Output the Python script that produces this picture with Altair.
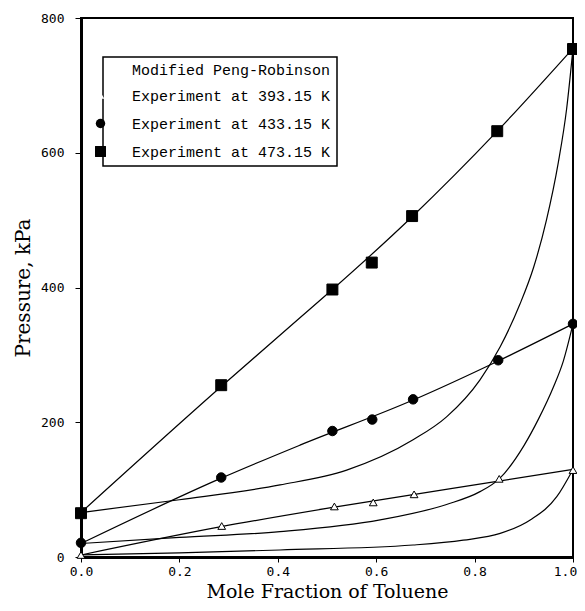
import altair as alt
import pandas as pd

# ---- model curves (Modified Peng-Robinson) ----
bub473_x = [0.0, 0.285, 0.445, 0.511, 0.673, 0.846, 1.0]
bub473_p = [66, 253, 355, 397, 505, 632, 755]

bub433_x = [0.0, 0.285, 0.445, 0.675, 0.848, 1.0]
bub433_p = [20, 117, 166, 233, 291, 346]

bub393_x = [0.0, 0.285, 0.515, 0.852, 1.0]
bub393_p = [3, 45, 74, 113, 130]

dew473_x = [0.0, 0.2, 0.4045, 0.54, 0.675, 0.743, 0.811, 0.852, 0.892, 0.92, 0.946, 0.97, 0.987, 1.0]
dew473_p = [66, 85, 107, 129, 174, 208, 263, 312, 375, 430, 500, 585, 665, 755]

dew433_x = [0.0, 0.2, 0.4045, 0.608, 0.743, 0.811, 0.85, 0.9, 0.93, 0.96, 0.98, 1.0]
dew433_p = [20, 29, 37.6, 55, 78, 97, 116, 165, 205, 252, 290, 346]

dew393_x = [0.0, 0.2, 0.4045, 0.675, 0.777, 0.852, 0.913, 0.967, 1.0]
dew393_p = [3, 6, 10.4, 17.8, 25, 35, 55, 89.5, 130]

# ---- experiments ----
exp393_x = [0.0, 0.286, 0.515, 0.594, 0.677, 0.85, 1.0]
exp393_p = [3, 46, 75, 81, 93, 116, 129]
exp433_x = [0.0, 0.285, 0.511, 0.592, 0.675, 0.848, 1.0]
exp433_p = [21, 118, 187, 204, 234, 292, 346]
exp473_x = [0.0, 0.285, 0.511, 0.591, 0.673, 0.846, 1.0]
exp473_p = [65, 255, 397, 437, 506, 632, 754]

series_names = ["Experiment at 393.15 K", "Experiment at 433.15 K", "Experiment at 473.15 K"]

curve_rows = []
for name, xs, ps in [("bub473", bub473_x, bub473_p), ("bub433", bub433_x, bub433_p),
                     ("bub393", bub393_x, bub393_p), ("dew473", dew473_x, dew473_p),
                     ("dew433", dew433_x, dew433_p), ("dew393", dew393_x, dew393_p)]:
    for x, p in zip(xs, ps):
        curve_rows.append({"curve": name, "x": x, "p": p})
curves = pd.DataFrame(curve_rows)

pt_rows = []
for name, xs, ps in zip(series_names, [exp393_x, exp433_x, exp473_x], [exp393_p, exp433_p, exp473_p]):
    for x, p in zip(xs, ps):
        pt_rows.append({"series": name, "x": x, "p": p})
points = pd.DataFrame(pt_rows)

xscale = alt.Scale(domain=[0, 1], nice=False, zero=False)
yscale = alt.Scale(domain=[0, 800], nice=False)

xaxis = alt.Axis(values=[0, 0.2, 0.4, 0.6, 0.8, 1.0], format=".1f", title="Mole Fraction of Toluene",
                 grid=False, tickSize=5, labelPadding=3, labelFlush=False,
                 labelOffset={"condition": {"test": "datum.value >= 1", "value": -8}, "value": 0},
                 titleY=40, titleBaseline="alphabetic", titleFontSize=19)
yaxis = alt.Axis(values=[0, 200, 400, 600, 800], title="Pressure, kPa", grid=False,
                 tickSize=6, labelPadding=11, titlePadding=7, labelFlush=False)

lines = alt.Chart(curves).mark_line(color="black", strokeWidth=1.2, interpolate="monotone").encode(
    x=alt.X("x:Q", scale=xscale, axis=xaxis),
    y=alt.Y("p:Q", scale=yscale, axis=yaxis),
    detail="curve:N",
)

legend = alt.Legend(title="Modified Peng-Robinson", orient="none", legendX=22, legendY=39)

pts = alt.Chart(points).mark_point(stroke="black", strokeWidth=1, opacity=1).encode(
    x=alt.X("x:Q", scale=xscale),
    y=alt.Y("p:Q", scale=yscale),
    shape=alt.Shape("series:N", scale=alt.Scale(domain=series_names, range=["triangle-up", "circle", "square"]), legend=legend),
    fill=alt.Fill("series:N", scale=alt.Scale(domain=series_names, range=["white", "black", "black"]), legend=legend),
    size=alt.Size("series:N", scale=alt.Scale(domain=series_names, range=[60, 120, 140]), legend=legend),
)

chart = alt.layer(lines, pts).properties(
    width=492, height=539,
    autosize=alt.AutoSizeParams(type="none"),
    padding={"left": 73, "top": 10, "right": 4, "bottom": 45},
).configure_view(
    stroke="black", strokeWidth=2
).configure_axis(
    domainColor="black", domainWidth=3, tickColor="black", tickWidth=1,
    labelFont="DejaVu Sans Mono", labelFontSize=13, labelColor="black",
    titleFont="DejaVu Serif", titleFontSize=20, titleFontWeight="normal", titleColor="black",
).configure_legend(
    strokeColor="black", strokeWidth=1.5, fillColor="white", padding=6,
    titleFont="Liberation Mono", titleFontSize=15, titleFontWeight="normal", titleColor="black",
    titleAnchor="end", titleLimit=400, labelLimit=400,
    labelFont="Liberation Mono", labelFontSize=15, labelColor="black",
    rowPadding=12, titlePadding=10, symbolOffset=-16, labelOffset=24,
    symbolStrokeColor="black", symbolStrokeWidth=1,
)

chart.save("out.html", embed_options={"renderer": "svg", "actions": False})
